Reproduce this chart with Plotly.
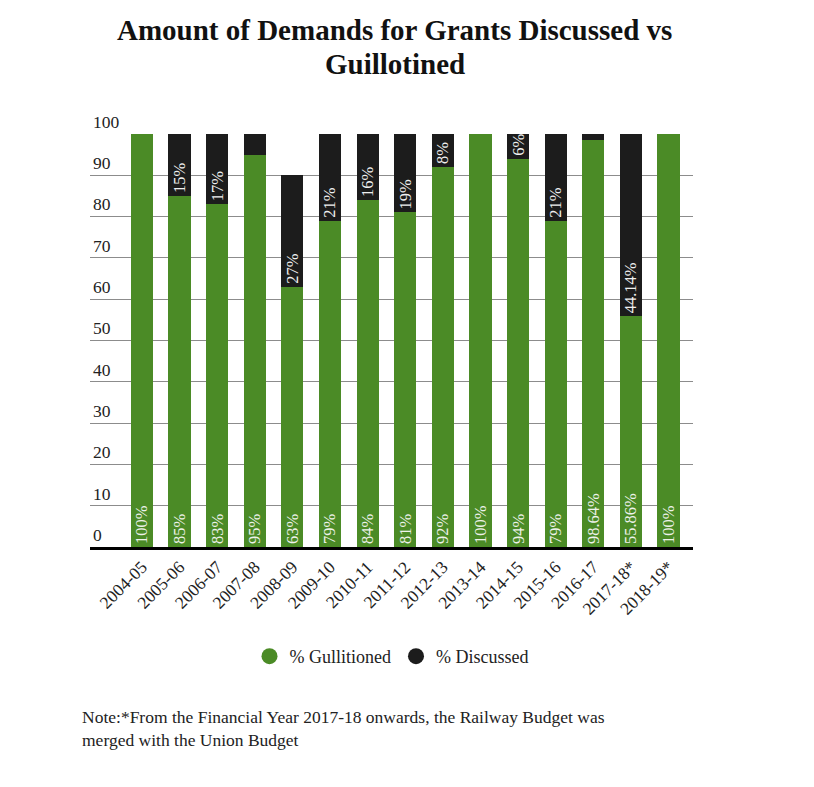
import plotly.graph_objects as go

# financial years on the x axis
years = ["2004-05", "2005-06", "2006-07", "2007-08", "2008-09", "2009-10",
         "2010-11", "2011-12", "2012-13", "2013-14", "2014-15", "2015-16",
         "2016-17", "2017-18*", "2018-19*"]

# share of demands guillotined / discussed (%)
guillotined = [100, 85, 83, 95, 63, 79, 84, 81, 92, 100, 94, 79, 98.64, 55.86, 100]
discussed = [0, 15, 17, 5, 27, 21, 16, 19, 8, 0, 6, 21, 1.36, 44.14, 0]

guillotined_labels = ["100%", "85%", "83%", "95%", "63%", "79%", "84%", "81%",
                      "92%", "100%", "94%", "79%", "98.64%", "55.86%", "100%"]
discussed_labels = ["", "15%", "17%", "", "27%", "21%", "16%", "19%",
                    "8%", "", "6%", "21%", "", "44.14%", ""]

y_ticks = [0, 10, 20, 30, 40, 50, 60, 70, 80, 90, 100]

GREEN = "#4b8b26"
BLACK = "#1c1c1c"
SERIF = "Liberation Serif"

fig = go.Figure()

# stacked bars
fig.add_trace(go.Bar(x=years, y=guillotined, name="% Gullitioned",
                     marker=dict(color=GREEN, line=dict(width=0)),
                     text=guillotined_labels, textposition="inside",
                     insidetextanchor="start", textangle=-90,
                     insidetextfont=dict(color="#eef2ea", size=16.5, family=SERIF),
                     constraintext="none", showlegend=False, hoverinfo="x+y"))
fig.add_trace(go.Bar(x=years, y=discussed, name="% Discussed",
                     marker=dict(color=BLACK, line=dict(width=0)),
                     text=discussed_labels, textposition="inside",
                     insidetextanchor="start", textangle=-90,
                     insidetextfont=dict(color="#f0f0f0", size=16.5, family=SERIF),
                     constraintext="none", showlegend=False, hoverinfo="x+y"))

# round legend markers
for nm, col in [("% Gullitioned", GREEN), ("% Discussed", BLACK)]:
    fig.add_trace(go.Scatter(x=[years[0]], y=[None], mode="markers", name=nm,
                             marker=dict(color=col, size=20, symbol="circle")))

fig.update_layout(
    width=814, height=787,
    margin=dict(l=82, r=129, t=126, b=248),
    barmode="stack", bargap=0.41,
    paper_bgcolor="white", plot_bgcolor="white",
    font=dict(family=SERIF, color="#222222", size=16),
    showlegend=True,
    legend=dict(orientation="h", x=0.5, xanchor="center", y=-0.265, yanchor="middle",
                traceorder="normal",
                font=dict(size=18, family=SERIF), itemsizing="trace"),
    xaxis=dict(type="category", categoryorder="array", categoryarray=years,
               range=[-1.38, 14.65], tickangle=-45, showgrid=False,
               showline=True, linecolor="black", linewidth=3,
               tickfont=dict(size=17.5, family=SERIF, color="#222222"), ticks=""),
    yaxis=dict(range=[0, 100], tickvals=y_ticks, showgrid=True, gridcolor="#8c8c8c",
               gridwidth=1, zeroline=False, showline=False,
               ticklabelposition="inside top", ticklabeloverflow="allow",
               tickfont=dict(size=17.5, family=SERIF, color="#222222")),
)

# title in two lines
fig.add_annotation(text="<b>Amount of Demands for Grants Discussed vs</b>",
                   xref="paper", yref="paper", x=0.505, y=1.252, showarrow=False,
                   yanchor="middle", font=dict(size=29, family=SERIF, color="#111111"))
fig.add_annotation(text="<b>Guillotined</b>",
                   xref="paper", yref="paper", x=0.505, y=1.169, showarrow=False,
                   yanchor="middle", font=dict(size=29, family=SERIF, color="#111111"))

# footnote
fig.add_annotation(text="Note:*From the Financial Year 2017-18 onwards, the Railway Budget was"
                        "<br>merged with the Union Budget",
                   xref="paper", yref="paper", x=-0.017, y=-0.44, showarrow=False,
                   xanchor="left", yanchor="middle", align="left",
                   font=dict(size=17.5, family=SERIF, color="#222222"))

fig.write_html("out.html")
